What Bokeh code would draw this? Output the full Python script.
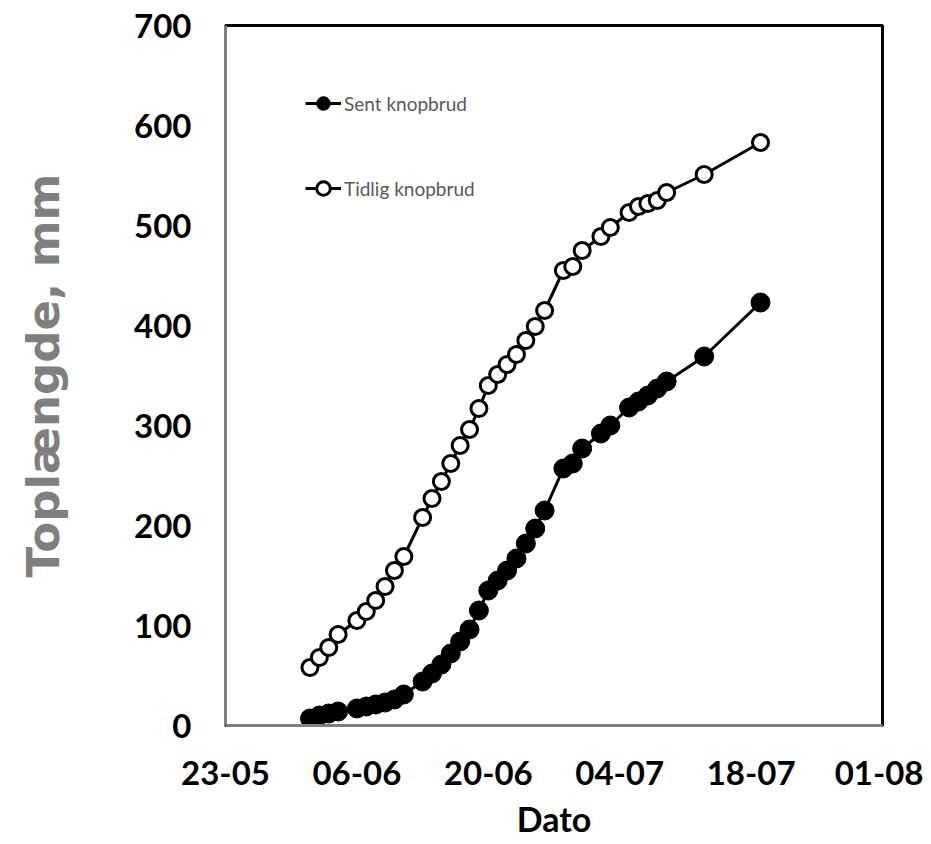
import pandas as pd
from bokeh.plotting import figure
from bokeh.models import Range1d, FixedTicker, DatetimeTickFormatter, Legend, LegendItem, ColumnDataSource
from bokeh.embed import file_html
from bokeh.resources import INLINE

YEAR = 2014
dates = ["01-06", "02-06", "03-06", "04-06",
         "06-06", "07-06", "08-06", "09-06", "10-06", "11-06",
         "13-06", "14-06", "15-06", "16-06", "17-06", "18-06", "19-06",
         "20-06", "21-06", "22-06", "23-06", "24-06", "25-06", "26-06",
         "28-06", "29-06", "30-06",
         "02-07", "03-07",
         "05-07", "06-07", "07-07", "08-07", "09-07",
         "13-07", "19-07"]
sent = [7, 10, 12, 14,
        17, 19, 21, 23, 26, 31,
        44, 52, 61, 72, 84, 96, 115,
        135, 145, 155, 167, 182, 197, 215,
        257, 262, 277,
        292, 300,
        318, 324, 330, 337, 344,
        369, 423]
tidlig = [58, 68, 78, 91,
          105, 114, 125, 139, 155, 169,
          208, 227, 244, 262, 280, 296, 317,
          340, 351, 361, 371, 385, 399, 415,
          455, 459, 475,
          489, 498,
          513, 519, 522, 525, 533,
          551, 583]
tick_labels = ["23-05", "06-06", "20-06", "04-07", "18-07", "01-08"]
y_ticks = [0, 100, 200, 300, 400, 500, 600, 700]

def to_dt(s):
    d, m = s.split("-")
    return pd.Timestamp(year=YEAR, month=int(m), day=int(d))

xs = [to_dt(s) for s in dates]
tick_dts = [to_dt(s) for s in tick_labels]
tick_ms = [t.value / 1e6 for t in tick_dts]

src = ColumnDataSource(dict(x=xs, sent=sent, tidlig=tidlig))

FONT = "Lato"
WIDE = "DejaVu Sans"
p = figure(width=923, height=844, x_axis_type="datetime",
           output_backend="svg", toolbar_location=None,
           x_range=Range1d(tick_dts[0], tick_dts[-1]),
           y_range=Range1d(0, 700),
           min_border_left=225, min_border_top=25,
           min_border_right=41, min_border_bottom=119)
p.grid.visible = False
p.outline_line_color = "black"
p.outline_line_width = 3
p.background_fill_color = "white"
p.border_fill_color = "white"

p.xaxis.ticker = FixedTicker(ticks=tick_ms)
fmt = "%d-%m"
p.xaxis.formatter = DatetimeTickFormatter(days=fmt, months=fmt, years=fmt, hours=fmt,
                                          minutes=fmt, seconds=fmt, milliseconds=fmt,
                                          microseconds=fmt, minsec=fmt, hourmin=fmt)
p.yaxis.ticker = FixedTicker(ticks=y_ticks)

for ax in (p.xaxis[0], p.yaxis[0]):
    ax.axis_line_color = "#808080"
    ax.axis_line_width = 3
    ax.major_tick_line_color = None
    ax.minor_tick_line_color = None
    ax.major_label_text_font = FONT
    ax.major_label_text_font_style = "bold"
    ax.major_label_text_font_size = "33px"
    ax.major_label_text_color = "black"
    ax.axis_label_text_font_style = "bold"

p.yaxis.major_label_standoff = 28
p.xaxis.major_label_standoff = 29
p.xaxis.axis_label = "Dato"
p.xaxis.axis_label_text_font = FONT
p.xaxis.axis_label_text_font_size = "34px"
p.xaxis.axis_label_text_color = "black"
p.xaxis.axis_label_standoff = 10
p.yaxis.axis_label = "Toplængde, mm"
p.yaxis.axis_label_text_font = WIDE
p.yaxis.axis_label_text_font_size = "45px"
p.yaxis.axis_label_text_color = "#7f7f7f"
p.yaxis.axis_label_standoff = 61

l1 = p.line("x", "sent", source=src, line_color="black", line_width=3)
c1 = p.scatter("x", "sent", source=src, size=19, fill_color="black", line_color="black", line_width=1)
l2 = p.line("x", "tidlig", source=src, line_color="black", line_width=3)
c2 = p.scatter("x", "tidlig", source=src, size=16, fill_color="white", line_color="black", line_width=3)

legend = Legend(items=[LegendItem(label="Sent knopbrud", renderers=[l1, c1]),
                       LegendItem(label="Tidlig knopbrud", renderers=[l2, c2])],
                location=(80, 520), orientation="vertical",
                glyph_width=36, glyph_height=34, label_height=34,
                spacing=51, padding=0, margin=0, label_standoff=3,
                label_text_font=FONT, label_text_font_size="19px",
                label_text_color="#595959",
                border_line_color=None, background_fill_alpha=0)
p.add_layout(legend)

open("out.html", "w").write(file_html(p, INLINE))
